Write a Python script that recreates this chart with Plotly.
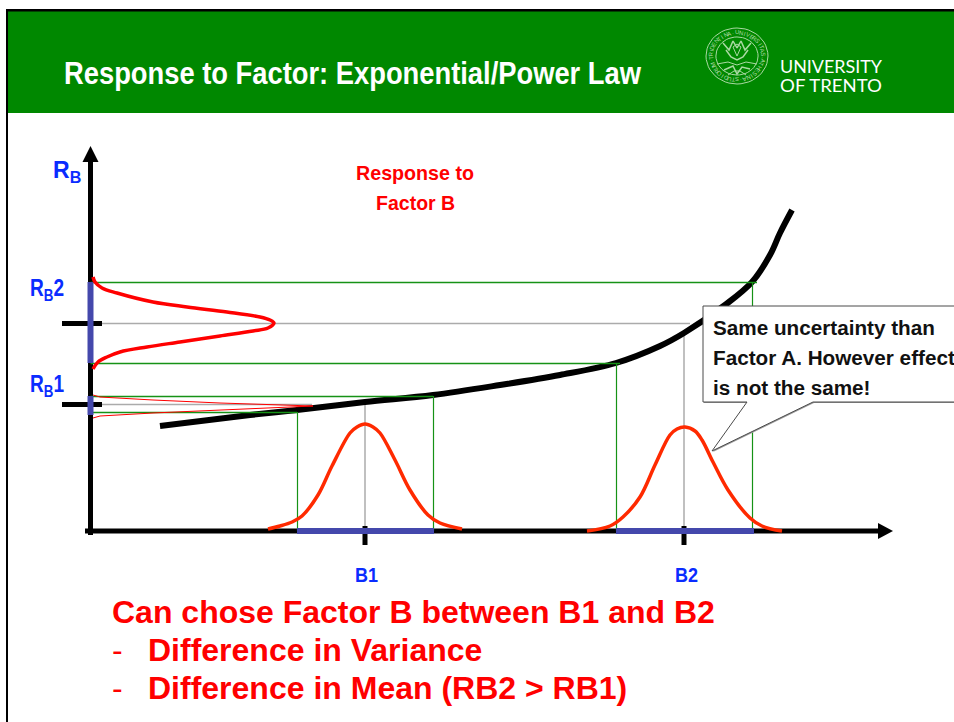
import json
import math
import plotly.graph_objects as go

# ---- data (pixel-space axes, y downwards) ----
curve_x = [160, 250, 297, 365, 433, 500, 560, 616, 660, 684, 725, 752, 770, 780, 792]
curve_y = [426, 415, 410, 402, 395, 385, 375, 363, 346, 333, 305, 282, 255, 233, 210]

rb2_x = [93, 95, 102, 117, 153, 187, 227, 260, 270, 274, 268, 253, 220, 180, 147, 120, 107, 98, 93]
rb2_y = [277, 282, 288, 293, 302, 307, 312, 317, 320, 323, 328, 331, 336, 342, 347, 352, 357, 362, 369]

rb1_x = [93, 100, 153, 220, 313, 220, 153, 100, 93]
rb1_y = [395, 397, 400, 403, 406, 410, 413, 416, 418]

b1_x = [268, 280, 292, 302, 318, 332, 350, 357, 365, 373, 380, 395, 410, 428, 440, 462]
b1_y = [529, 526, 522, 516, 495, 466, 433, 427, 424, 427, 433, 460, 490, 515, 523, 529]

b2_x = [587, 610, 623, 640, 655, 670, 677, 685, 695, 702, 713, 728, 750, 762, 782]
b2_y = [531, 526, 517, 497, 465, 435, 429, 427, 431, 440, 462, 490, 518, 526, 531]

green_h_y = [282.5, 363.5, 396.5, 412.5]
green_h_end = [757, 620, 433, 297]
green_v_x = [297.5, 433.5, 616.5, 752.5]
green_v_top = [412, 396, 363, 282]

gray_h_y = [323.5, 404.5]
gray_h_end = [690, 312]
gray_v_x = [365, 684]
gray_v_top = [403, 335]

AXIS_X = 90.5
AXIS_Y = 531

title_text = "Response to Factor: Exponential/Power Law"
callout_lines = ["Same uncertainty than", "Factor A. However effect", "is not the same!"]
seal_text = "UNIVERSITAS·ATHESINA·STUDIORUM·TRIDENTINA·"

# widths of the condensed labels, as measured on the picture
condensed_left = {
    title_text: 577,
    "RB2": 34,
    "RB1": 34,
    "UNIVERSITY": 102,
    "OF TRENTO": 102,
}
condensed_centre = {
    "Response to": 118,
    "Factor B": 79,
    "B1": 23,
    "B2": 23,
}

GREEN = "#008800"
LINE_GREEN = "#169216"
GRAY = "#ababab"
BAR = "#4448ac"
RED = "#ff0000"
ORANGE = "#ff2a00"
BLUE = "#0a2cff"
SEAL = "#a9d9a2"
FONT = "Liberation Sans"

fig = go.Figure()


def line(x, y, color, width, shape="linear"):
    fig.add_trace(go.Scatter(x=x, y=y, mode="lines", hoverinfo="skip",
                             line=dict(color=color, width=width, shape=shape)))


def poly(x, y, fill, border=None, width=0):
    fig.add_trace(go.Scatter(x=x + x[:1], y=y + y[:1], mode="lines", fill="toself",
                             fillcolor=fill, hoverinfo="skip",
                             line=dict(color=border or fill, width=width)))


def text(x, y, s, size, color, bold=True, anchor="left", family=FONT, angle=0):
    fig.add_annotation(x=x, y=y, text=f"<b>{s}</b>" if bold else s, showarrow=False,
                       xanchor=anchor, yanchor="middle", textangle=angle,
                       xshift=-2 if anchor == "left" else 0,
                       font=dict(size=size, color=color, family=family))


# slide frame and header
poly([8, 954, 954, 8], [11, 11, 113, 113], GREEN)
line([6, 954], [10.2, 10.2], "#000000", 2.5)
line([7, 7], [9, 722], "#000000", 2)

# seal
cx, cy, rx, ry = 737, 56, 31, 28
ang = [i / 48 * 2 * math.pi for i in range(49)]
for k, w in [(1, 1), (0.68, 1)]:
    line([cx + k * rx * math.cos(a) for a in ang], [cy + k * ry * math.sin(a) for a in ang], SEAL, w)
for i, ch in enumerate(seal_text):
    a = -math.pi / 2 + i / len(seal_text) * 2 * math.pi
    text(cx + 0.84 * rx * math.cos(a), cy + 0.84 * ry * math.sin(a), ch, 6, SEAL,
         bold=False, anchor="center", angle=math.degrees(a) + 90)
line([723, 729, 733, 737, 741, 745, 751], [43, 50, 41, 48, 41, 50, 43], SEAL, 1.5)
line([726, 731, 737, 743, 748], [50, 57, 60, 57, 50], SEAL, 1.5)
line([733, 737, 741, 737, 733], [47, 44, 47, 56, 47], SEAL, 1)
line([717, 728, 737, 746, 757], [64, 62, 65, 62, 64], SEAL, 1)
line([724, 733, 737, 742, 750], [70, 66, 74, 67, 69], SEAL, 1.5)
line([728, 734, 740, 746], [75, 71, 71, 75], SEAL, 1)

# guide lines
for y, end in zip(gray_h_y, gray_h_end):
    line([AXIS_X, end], [y, y], GRAY, 1.5)
for x, top in zip(gray_v_x, gray_v_top):
    line([x, x], [top, AXIS_Y], GRAY, 1.5)

# axes
line([AXIS_X, AXIS_X], [535, 158], "#000000", 5)
line([85, 880], [AXIS_Y, AXIS_Y], "#000000", 5)
poly([AXIS_X - 8, AXIS_X + 8, AXIS_X], [162, 162, 146], "#000000")
poly([878, 878, 893], [523, 539, AXIS_Y], "#000000")
for y in gray_h_y:
    line([62, 102], [y, y], "#000000", 5)
for x in gray_v_x:
    line([x, x], [526, 545], "#000000", 5)

# response curve
line(curve_x, curve_y, "#000000", 6, "spline")

# green projections over the curve
for y, end in zip(green_h_y, green_h_end):
    line([AXIS_X, end], [y, y], LINE_GREEN, 1.4)
for x, top in zip(green_v_x, green_v_top):
    line([x, x], [top, AXIS_Y], LINE_GREEN, 1.2)

# uncertainty bars
line([AXIS_X, AXIS_X], [282, 363], BAR, 6)
line([AXIS_X, AXIS_X], [396, 415], BAR, 6)
line([297, 434], [AXIS_Y, AXIS_Y], BAR, 6)
line([616, 754], [AXIS_Y, AXIS_Y], BAR, 6)

# distributions
line(rb2_x, rb2_y, RED, 3.5, "spline")
line(rb1_x, rb1_y, RED, 1, "linear")
line(b1_x, b1_y, ORANGE, 3.5, "spline")
line(b2_x, b2_y, ORANGE, 3.5, "spline")

# callout
box_x = [703, 960, 960, 813, 712, 747, 703]
box_y = [306, 306, 402, 402, 451, 402, 402]
poly([v + 1 for v in box_x], [v + 1 for v in box_y], "#9a9a9a")
poly(box_x, box_y, "#ffffff", "#4a4a4a", 1)

# text
text(64, 73, title_text, 31, "#ffffff")
text(780, 66, "UNIVERSITY", 18, "#ffffff", bold=False, family="Lato")
text(780, 85, "OF TRENTO", 18, "#ffffff", bold=False, family="Lato")
text(415, 172, "Response to", 21, RED, anchor="center")
text(415, 202, "Factor B", 21, RED, anchor="center")
text(53, 171, "R<sub>B</sub>", 23, BLUE)
text(30, 289, "R<sub>B</sub>2", 23, BLUE)
text(30, 385, "R<sub>B</sub>1", 23, BLUE)
text(366, 574, "B1", 21, BLUE, anchor="center")
text(686, 574, "B2", 21, BLUE, anchor="center")
for s, y in zip(callout_lines, [327, 357, 387]):
    text(713, y, s, 20.7, "#111111")
text(112, 612, "Can chose Factor B between B1 and B2", 32, RED)
text(112, 650, "-", 32, RED, bold=False)
text(148, 650, "Difference in Variance", 32, RED)
text(112, 688, "-", 32, RED, bold=False)
text(148, 688, "Difference in Mean (RB2 > RB1)", 32, RED)

hidden = dict(visible=False, fixedrange=True)
fig.update_layout(
    width=954, height=722, margin=dict(l=0, r=0, t=0, b=0), showlegend=False,
    paper_bgcolor="#ffffff", plot_bgcolor="#ffffff",
    xaxis=dict(range=[0, 954], **hidden),
    yaxis=dict(range=[722, 0], **hidden),
)

post = """
document.body.style.margin='0';
var leftW = %s, centreW = %s;
function squeeze(){
  document.querySelectorAll('text.annotation-text').forEach(function(t){
    if (t.getAttribute('textLength')) return;
    var key = t.textContent.replace(/\\u200b/g, '');
    var w = leftW[key] || centreW[key];
    if (!w) return;
    if (leftW[key]) {
      var orig = t.getComputedTextLength();
      t.setAttribute('x', parseFloat(t.getAttribute('x')) + (w - orig) / 2);
    }
    t.setAttribute('textLength', w);
    t.setAttribute('lengthAdjust', 'spacingAndGlyphs');
  });
}
squeeze(); setTimeout(squeeze, 50);
""" % (json.dumps(condensed_left), json.dumps(condensed_centre))
fig.write_html("out.html", config=dict(displayModeBar=False), post_script=post)
